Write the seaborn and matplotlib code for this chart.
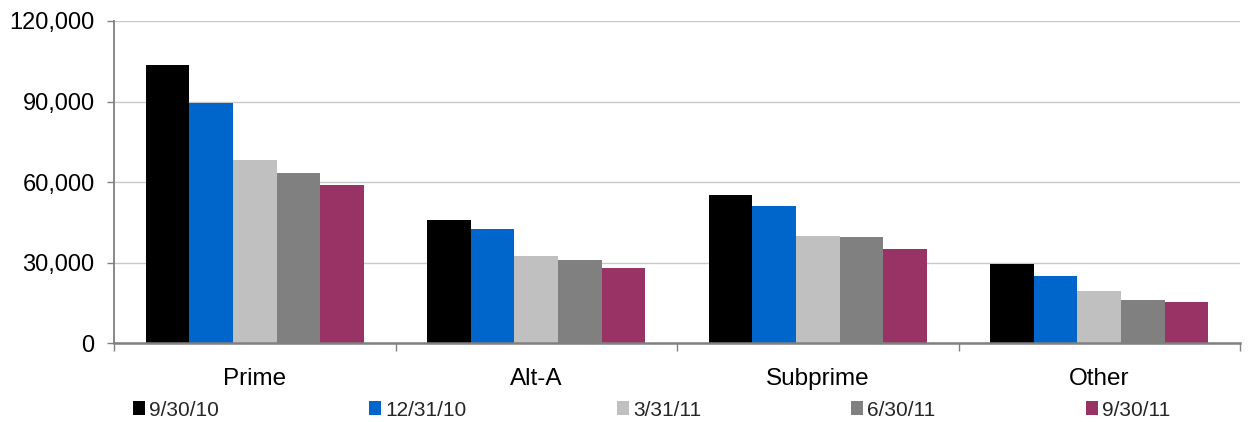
import numpy as np
import pandas as pd
import matplotlib
matplotlib.use("Agg")
import matplotlib.pyplot as plt
import seaborn as sns
from matplotlib.patches import Patch
from matplotlib.ticker import FuncFormatter, MultipleLocator, FixedLocator

categories = ["Prime", "Alt-A", "Subprime", "Other"]
periods = ["9/30/10", "12/31/10", "3/31/11", "6/30/11", "9/30/11"]
colors = ["#000000", "#0066CC", "#C0C0C0", "#808080", "#993366"]

values = {
    "9/30/10":  [103600, 45900, 55200, 29500],
    "12/31/10": [89500, 42600, 51100, 25100],
    "3/31/11":  [68200, 32500, 40000, 19500],
    "6/30/11":  [63400, 31000, 39600, 16100],
    "9/30/11":  [58900, 28000, 35100, 15400],
}

rows = []
for p in periods:
    for c, v in zip(categories, values[p]):
        rows.append({"category": c, "period": p, "value": v})
df = pd.DataFrame(rows)

sns.set_theme(style="white")
plt.rcParams["font.family"] = ["Liberation Sans", "DejaVu Sans"]

fig = plt.figure(figsize=(12.48, 4.22), dpi=100)
ax = fig.add_axes([114 / 1248, 1 - 343.3 / 422, (1240 - 114) / 1248, (343.3 - 21) / 422])

sns.barplot(data=df, x="category", y="value", hue="period", order=categories,
            hue_order=periods, palette=colors, width=0.775, gap=0,
            saturation=1, linewidth=0, legend=False, ax=ax)

ax.set_ylim(0, 120000)
ax.set_xlim(-0.5, len(categories) - 0.5)
ax.yaxis.set_major_locator(MultipleLocator(30000))
ax.yaxis.set_major_formatter(FuncFormatter(lambda v, _: f"{int(v):,}"))
ax.grid(axis="y", color="#C8C8C8", linewidth=1)
ax.set_axisbelow(True)

ax.set_xlabel("")
ax.set_ylabel("")

for side in ["top", "right"]:
    ax.spines[side].set_visible(False)
ax.spines["left"].set_color("#808080")
ax.spines["left"].set_linewidth(1.3)
ax.spines["bottom"].set_color("#808080")
ax.spines["bottom"].set_linewidth(1.8)

ax.xaxis.set_minor_locator(FixedLocator(np.arange(-0.5, len(categories), 1.0)))
ax.tick_params(axis="x", which="major", length=0, pad=18, labelsize=17.5, labelcolor="black")
ax.tick_params(axis="x", which="minor", bottom=True, length=6, width=1, color="#808080", direction="out")
ax.tick_params(axis="y", which="major", left=True, length=5, width=1, color="#808080",
               direction="out", pad=9, labelsize=17, labelcolor="black")

handles = [Patch(facecolor=c, edgecolor="none", label=p) for c, p in zip(colors, periods)]
fig.legend(handles=handles, loc="center left", bbox_to_anchor=(133 / 1248, 1 - 410 / 422),
           ncol=5, frameon=False, fontsize=15, handlelength=0.58, handleheight=0.62,
           handletextpad=0.2, columnspacing=7.2, borderpad=0, borderaxespad=0)

fig.savefig("out.png", dpi=100, facecolor="white")
